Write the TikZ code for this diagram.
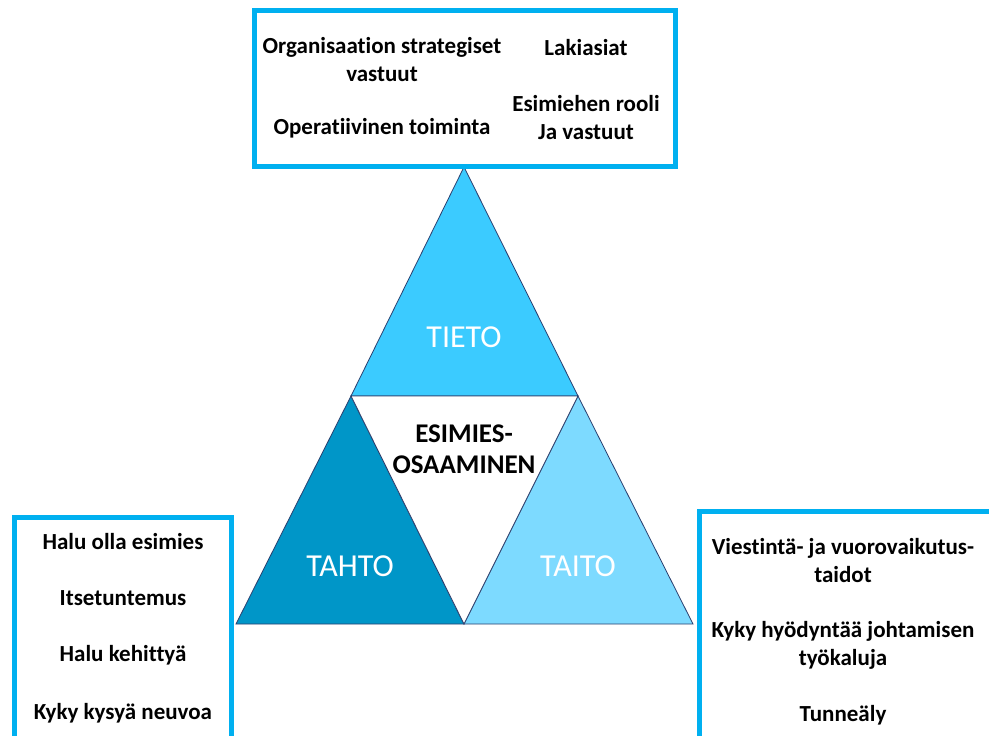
\documentclass[tikz,border=0pt]{standalone}
\usepackage{fontspec}
\setmainfont{Carlito}[Ligatures={NoCommon}]
\usepackage{tikz}

\definecolor{framecol}{HTML}{00B0F0}
\definecolor{tietocol}{HTML}{3BCBFF}
\definecolor{tahtocol}{HTML}{0096C8}
\definecolor{taitocol}{HTML}{7DDAFF}
\definecolor{edgecol}{HTML}{2B3F6E}

\begin{document}
\begin{tikzpicture}[x=1pt,y=-1pt,
  frame/.style={draw=framecol,line width=5pt},
  tri/.style={draw=edgecol,line width=0.8pt,line join=miter},
  item/.style={align=center,font=\fontsize{23}{28}\selectfont\bfseries,inner sep=0pt},
  part/.style={text=white,font=\fontsize{32}{36}\selectfont,inner sep=0pt}]
\useasboundingbox (0,0) rectangle (989,736);
\clip (0,0) rectangle (989,736);
\fill[white] (0,0) rectangle (989,736);

% corners of the pyramid
\coordinate (top) at (464,167);
\coordinate (ml) at (351,396);
\coordinate (mr) at (578,396);
\coordinate (bl) at (236,624);
\coordinate (bm) at (464,624);
\coordinate (br) at (693,624);

\filldraw[tri,fill=tietocol] (top) -- (ml) -- (mr) -- cycle;
\filldraw[tri,fill=tahtocol] (ml) -- (bl) -- (bm) -- cycle;
\filldraw[tri,fill=taitocol] (mr) -- (bm) -- (br) -- cycle;
\draw[tri,fill=white] (ml) -- (mr) -- (bm) -- cycle;

\node[part] (tieto) at (464,337) {TIETO};
\node[part] (tahto) at (350,566) {TAHTO};
\node[part] (taito) at (578,566) {TAITO};
\node[item,font=\fontsize{27}{31}\selectfont\bfseries] (core) at (464,449) {ESIMIES-\\OSAAMINEN};

% frames
\draw[frame] (254.5,10.5) rectangle (675,166.5);
\draw[frame] (14.5,517.5) rectangle (231,760);
\draw[frame] (699.5,511.5) rectangle (1010,760);

\node[item] (strat) at (382,60) {Organisaation strategiset\\vastuut};
\node[item] (oper) at (382,128) {Operatiivinen toiminta};
\node[item] (laki) at (586,48) {Lakiasiat};
\node[item] (rooli) at (586,118) {Esimiehen rooli\\Ja vastuut};

\node[item] (halu) at (123,542) {Halu olla esimies};
\node[item] (itse) at (123,598) {Itsetuntemus};
\node[item] (kehit) at (123,655) {Halu kehittyä};
\node[item] (neuvo) at (123,713) {Kyky kysyä neuvoa};

\node[item] (viest) at (843,561) {Viestintä- ja vuorovaikutus-\\taidot};
\node[item] (tyoka) at (843,645) {Kyky hyödyntää johtamisen\\työkaluja};
\node[item] (tunne) at (843,715) {Tunneäly};
\end{tikzpicture}
\end{document}
